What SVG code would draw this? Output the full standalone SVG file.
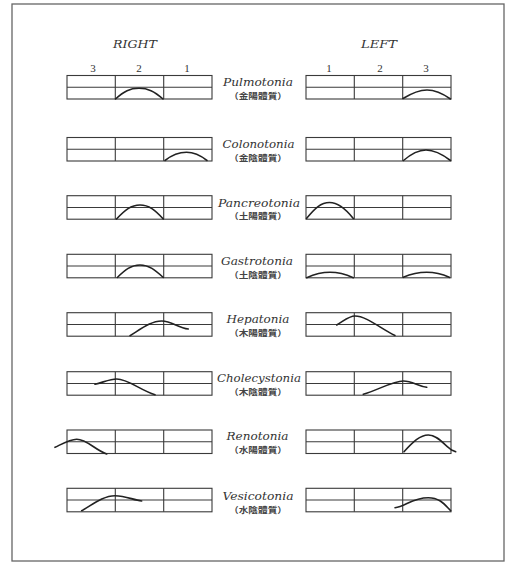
<svg xmlns="http://www.w3.org/2000/svg" xmlns:xlink="http://www.w3.org/1999/xlink" width="511" height="563" viewBox="0 0 511 563">
<style>
.frame{fill:#fff;stroke:#666;stroke-width:1.3}
.bx{fill:none;stroke:#3a3a3a;stroke-width:1.1}
.wave{fill:none;stroke:#222;stroke-width:1.6;stroke-linecap:round}
.t{font-family:"DejaVu Serif","Liberation Serif",serif;font-style:italic;font-size:11.5px;fill:#333;text-anchor:middle}
.c{font-family:"Noto Sans CJK TC","Noto Sans CJK SC",sans-serif;font-size:8.5px;font-weight:bold;fill:#444;text-anchor:middle}
.h{font-family:"DejaVu Serif","Liberation Serif",serif;font-style:italic;font-size:11.5px;fill:#333;text-anchor:middle}
.n{font-family:"Liberation Serif",serif;font-size:11px;fill:#333;text-anchor:middle}
</style>
<defs>
<symbol id="box" overflow="visible">
<rect class="bx" x="0" y="0" width="145" height="23.5"/>
<line class="bx" x1="0" y1="11.75" x2="145" y2="11.75"/>
<line class="bx" x1="48.3" y1="0" x2="48.3" y2="23.5"/>
<line class="bx" x1="96.7" y1="0" x2="96.7" y2="23.5"/>
</symbol>
</defs>
<rect class="frame" x="12" y="4" width="492" height="557"/>
<g id="headers">
<text class="h" x="135" y="48" textLength="44" lengthAdjust="spacingAndGlyphs">RIGHT</text>
<text class="h" x="379" y="48" textLength="36" lengthAdjust="spacingAndGlyphs">LEFT</text>
<text class="n" x="93" y="72">3</text>
<text class="n" x="139" y="72">2</text>
<text class="n" x="187" y="72">1</text>
<text class="n" x="329" y="72">1</text>
<text class="n" x="380" y="72">2</text>
<text class="n" x="426" y="72">3</text>
</g>
<g id="row-pulmotonia">
<g id="pulmotonia-right"><use href="#box" x="67" y="75.5"/><path class="wave" d="M115.5,99 C124,91 130,88.3 139,88.3 C148,88.3 154,91 163,99"/></g>
<g id="pulmotonia-label"><text class="t" x="258" y="86" textLength="70" lengthAdjust="spacingAndGlyphs">Pulmotonia</text><text class="c" x="258" y="98.5" textLength="58" lengthAdjust="spacingAndGlyphs">（金陽體質）</text></g>
<g id="pulmotonia-left"><use href="#box" x="306" y="75.5"/><path class="wave" d="M403,98.5 C412,93 419,90 427,90 C435,90 442,93 450.5,99"/></g>
</g>
<g id="row-colonotonia">
<g id="colonotonia-right"><use href="#box" x="67" y="137.5"/><path class="wave" d="M165,160.5 C172,155 179,152.3 186.5,152.3 C194,152.3 200,155 207,160.5"/></g>
<g id="colonotonia-label"><text class="t" x="258.5" y="148" textLength="72" lengthAdjust="spacingAndGlyphs">Colonotonia</text><text class="c" x="258" y="160.5" textLength="58" lengthAdjust="spacingAndGlyphs">（金陰體質）</text></g>
<g id="colonotonia-left"><use href="#box" x="306" y="137.5"/><path class="wave" d="M403.5,160.5 C411,154 418,150 426,150 C434,150 442,154 450.5,160.5"/></g>
</g>
<g id="row-pancreotonia">
<g id="pancreotonia-right"><use href="#box" x="67" y="195.7"/><path class="wave" d="M116.5,219 C125,210 131,205 140,205 C149,205 155,210 163.3,219"/></g>
<g id="pancreotonia-label"><text class="t" x="259" y="206.5" textLength="82" lengthAdjust="spacingAndGlyphs">Pancreotonia</text><text class="c" x="258" y="219" textLength="58" lengthAdjust="spacingAndGlyphs">（土陽體質）</text></g>
<g id="pancreotonia-left"><use href="#box" x="306" y="195.7"/><path class="wave" d="M306.5,218.5 C315,208 321,202.5 329.5,202.5 C338,202.5 345,208 353.3,218.5"/></g>
</g>
<g id="row-gastrotonia">
<g id="gastrotonia-right"><use href="#box" x="67" y="254.3"/><path class="wave" d="M117.3,277.5 C125,270 131,265 140,265 C149,265 155,270 163.3,277.5"/></g>
<g id="gastrotonia-label"><text class="t" x="257" y="265" textLength="72" lengthAdjust="spacingAndGlyphs">Gastrotonia</text><text class="c" x="258" y="277.5" textLength="58" lengthAdjust="spacingAndGlyphs">（土陰體質）</text></g>
<g id="gastrotonia-left"><use href="#box" x="306" y="254.3"/><path class="wave" d="M306.7,277.7 C315,274 322,272.3 330,272.3 C338,272.3 345,274 353.3,277.7"/><path class="wave" d="M403.3,277.3 C411,274 418,272.3 426.7,272.3 C435,272.3 442,274 449.3,277.3"/></g>
</g>
<g id="row-hepatonia">
<g id="hepatonia-right"><use href="#box" x="67" y="312.7"/><path class="wave" d="M130,335.7 C141,329 151,321 161.7,321 C172,321 178,328 188.3,329"/></g>
<g id="hepatonia-label"><text class="t" x="258" y="323" textLength="63" lengthAdjust="spacingAndGlyphs">Hepatonia</text><text class="c" x="258" y="335.7" textLength="58" lengthAdjust="spacingAndGlyphs">（木陽體質）</text></g>
<g id="hepatonia-left"><use href="#box" x="306" y="312.7"/><path class="wave" d="M336.7,325 C345,320 349,316 355,316 C366,316 380,328 395,335.5"/></g>
</g>
<g id="row-cholecystonia">
<g id="cholecystonia-right"><use href="#box" x="67" y="371.7"/><path class="wave" d="M95,384.3 C104,382 110,379 116.7,379 C128,379 140,390 155,394.7"/></g>
<g id="cholecystonia-label"><text class="t" x="259" y="381.7" textLength="84" lengthAdjust="spacingAndGlyphs">Cholecystonia</text><text class="c" x="258" y="395" textLength="58" lengthAdjust="spacingAndGlyphs">（木陰體質）</text></g>
<g id="cholecystonia-left"><use href="#box" x="306" y="371.7"/><path class="wave" d="M363.3,394.3 C378,390 393,381 403.3,381 C412,381 418,386 426.7,387.3"/></g>
</g>
<g id="row-renotonia">
<g id="renotonia-right"><use href="#box" x="67" y="430"/><path class="wave" d="M55,447.3 C62,444 70,439.3 76.7,439.3 C87,439.3 95,450 106.7,454"/></g>
<g id="renotonia-label"><text class="t" x="257.5" y="440" textLength="62" lengthAdjust="spacingAndGlyphs">Renotonia</text><text class="c" x="258" y="453" textLength="58" lengthAdjust="spacingAndGlyphs">（水陽體質）</text></g>
<g id="renotonia-left"><use href="#box" x="306" y="430"/><path class="wave" d="M404,451.7 C413,442 420,435 428.3,435 C438,435 445,446 451.7,450 L455.7,451.7"/></g>
</g>
<g id="row-vesicotonia">
<g id="vesicotonia-right"><use href="#box" x="67" y="488.3"/><path class="wave" d="M81.7,510.7 C92,505 103,495.7 115,495.7 C126,495.7 133,500 141.7,501"/></g>
<g id="vesicotonia-label"><text class="t" x="258" y="500.3" textLength="71" lengthAdjust="spacingAndGlyphs">Vesicotonia</text><text class="c" x="258" y="513" textLength="58" lengthAdjust="spacingAndGlyphs">（水陰體質）</text></g>
<g id="vesicotonia-left"><use href="#box" x="306" y="488.3"/><path class="wave" d="M395,507.7 C405,507 412,497.7 428.3,497.7 C440,497.7 445,505 450.7,510.7"/></g>
</g>
</svg>
